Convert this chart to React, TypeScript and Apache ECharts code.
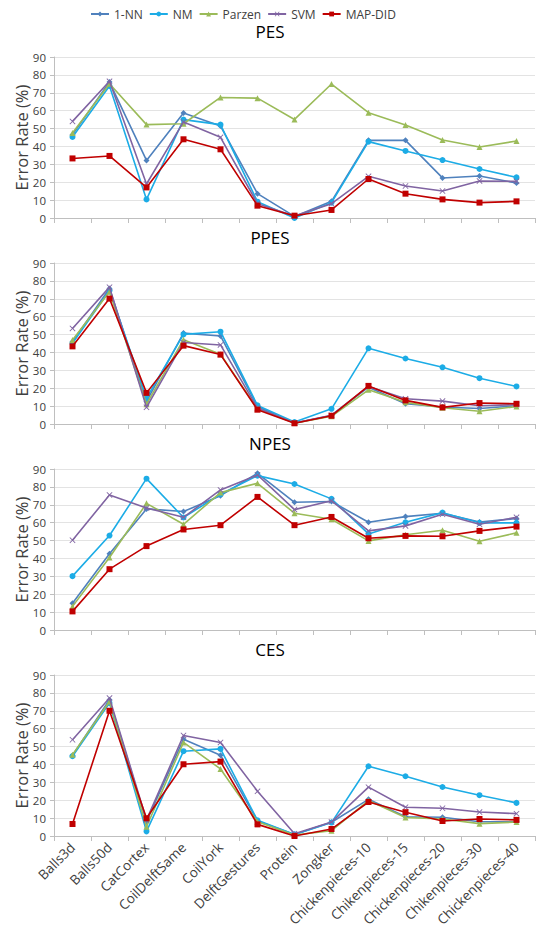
import React, { useEffect, useRef } from "react";
import * as echarts from "echarts";

const categories = [
  "Balls3d", "Balls50d", "CatCortex", "CoilDelftSame", "CoilYork", "DelftGestures",
  "Protein", "Zongker", "Chickenpieces-10", "Chikenpieces-15", "Chickenpieces-20",
  "Chikenpieces-30", "Chickenpieces-40",
];
const methods = ["1-NN", "NM", "Parzen", "SVM", "MAP-DID"];
const panelTitles = ["PES", "PPES", "NPES", "CES"];
const yTicks = [0, 10, 20, 30, 40, 50, 60, 70, 80, 90];

// PES
const pesNN = [46.6, 76, 32.2, 58.7, 51.4, 13.6, 0.9, 9.3, 43.4, 43.4, 22.4, 23.5, 19.6];
const pesNM = [45.3, 73.8, 10.4, 55, 52.2, 9.1, 0, 8.6, 42.7, 37.5, 32.4, 27.4, 22.7];
const pesParzen = [47.5, 75, 52.2, 52.7, 67.4, 67, 55.1, 74.9, 58.9, 52, 43.6, 39.7, 43];
const pesSVM = [54, 76.4, 19, 53.7, 45.1, 8, 1.1, 8, 23.3, 17.9, 15.1, 20.7, 20.5];
const pesMAP = [33.3, 34.7, 17.1, 44, 38.4, 6.9, 1.3, 4.5, 21.8, 13.6, 10.4, 8.6, 9.3];

// PPES
const ppesNN = [46, 75.7, 12.6, 50.8, 49.2, 9.8, 0.6, 4.8, 20.6, 11.3, 9.5, 8.7, 10.2];
const ppesNM = [45.1, 74.6, 14.5, 50.1, 51.6, 10.4, 1.1, 8.5, 42.3, 36.6, 31.7, 25.6, 21];
const ppesParzen = [47, 73.9, 11.1, 47.1, 39, 8.5, 0.5, 4.3, 19.1, 12.1, 9.1, 7.1, 9.8];
const ppesSVM = [53.4, 76.5, 9.3, 45.6, 44.2, 8.9, 0.6, 4.9, 21, 14.1, 12.8, 10.2, 10.8];
const ppesMAP = [43.4, 70.1, 17.4, 43.8, 38.8, 8, 0.4, 4.6, 21.3, 13.2, 9.3, 11.7, 11.3];

// NPES
const npesNN = [14.9, 42.6, 67.7, 66.2, 75.1, 87.6, 71.4, 71.8, 60.2, 63.4, 65.3, 60.4, 62.3];
const npesNM = [30.1, 52.8, 84.6, 62.9, 75.9, 86.3, 81.6, 73.3, 53.7, 60.2, 65.6, 59.9, 59.9];
const npesParzen = [13.2, 40.5, 70.8, 59.1, 76.8, 82, 65.3, 61.9, 49.8, 53.2, 55.8, 49.6, 54.3];
const npesSVM = [50.2, 75.5, 68.2, 63, 78.3, 86.7, 67.3, 72.3, 55.4, 58.2, 64.7, 59.1, 63];
const npesMAP = [10.4, 34, 46.9, 56.2, 58.6, 74.4, 58.6, 63.2, 51.3, 52.6, 52.4, 55.4, 57.8];

// CES
const cesNN = [45, 76.2, 8, 54.1, 45.2, 8.4, 0.8, 7.7, 20.5, 10.8, 10.5, 8, 8];
const cesNM = [44.6, 74.3, 2.6, 47.4, 48.7, 8.8, 0.9, 7.5, 39, 33.4, 27.4, 22.8, 18.5];
const cesParzen = [45.4, 75.2, 5.2, 52.3, 37.5, 8, 0.6, 3, 19.8, 10.3, 9.5, 6.9, 7.8];
const cesSVM = [53.8, 77.1, 9, 56.2, 52.3, 25, 1.3, 7.8, 27.3, 16.1, 15.5, 13.4, 12.5];
const cesMAP = [6.7, 70, 9.9, 40.1, 41.6, 6.5, 0, 3.9, 19, 13.3, 8.4, 9.5, 9];

const panels = [
  [pesNN, pesNM, pesParzen, pesSVM, pesMAP],
  [ppesNN, ppesNM, ppesParzen, ppesSVM, ppesMAP],
  [npesNN, npesNM, npesParzen, npesSVM, npesMAP],
  [cesNN, cesNM, cesParzen, cesSVM, cesMAP],
];

const colors = ["#4f81bd", "#1cace6", "#9bbb59", "#8064a2", "#c00000"];
const xMark = "path://M0,1L1,0L5,4L9,0L10,1L6,5L10,9L9,10L5,6L1,10L0,9L4,5Z";
const symbols = ["diamond", "circle", "triangle", xMark, "rect"];
const symbolSizes = [6, 6, 6, 6, 6];

const FONT = "Open Sans";
const gridTops = [57, 263, 469, 675];
const gridHeight = 161;

export default function App() {
  const ref = useRef<HTMLDivElement>(null);
  useEffect(() => {
    if (!ref.current) return;
    const chart = echarts.init(ref.current, undefined, { renderer: "svg" });
    const grids = gridTops.map((t) => ({ left: 54, right: 1, top: t, height: gridHeight }));
    const xAxes = gridTops.map((_, i) => ({
      type: "category" as const,
      gridIndex: i,
      data: categories,
      boundaryGap: true,
      axisLine: { lineStyle: { color: "#bfbfbf" } },
      axisTick: { show: true, length: 5, lineStyle: { color: "#bfbfbf" } },
      axisLabel: {
        show: i === 3,
        interval: 0,
        rotate: 45,
        fontFamily: FONT,
        fontSize: 13.5,
        color: "#404040",
        margin: 9,
        padding: [16, 0, 0, 0],
      },
      splitLine: { show: false },
    }));
    const yAxes = gridTops.map((_, i) => ({
      type: "value" as const,
      gridIndex: i,
      min: yTicks[0],
      max: yTicks[yTicks.length - 1],
      interval: 10,
      name: "Error Rate (%)",
      nameLocation: "middle" as const,
      nameGap: 24,
      nameMoveOverlap: false,
      nameTextStyle: { fontFamily: FONT, fontSize: 16.5, color: "#404040" },
      axisLine: { show: true, lineStyle: { color: "#bfbfbf" } },
      axisTick: { show: true, length: 4, lineStyle: { color: "#bfbfbf" } },
      axisLabel: { fontFamily: FONT, fontSize: 11.5, color: "#404040", margin: 8 },
      splitLine: { lineStyle: { color: "#e3e3e3" } },
    }));
    const series: any[] = [];
    panels.forEach((panel, pi) => {
      panel.forEach((vals, mi) => {
        series.push({
          type: "line",
          name: methods[mi],
          xAxisIndex: pi,
          yAxisIndex: pi,
          data: vals,
          symbol: symbols[mi],
          symbolSize: symbolSizes[mi],
          showAllSymbol: true,
          lineStyle: { width: 1.6, color: colors[mi] },
          itemStyle: { color: colors[mi] },
          z: 2 + mi,
        });
      });
    });
    chart.setOption({
      animation: false,
      backgroundColor: "#ffffff",
      color: colors,
      title: panelTitles.map((t, i) => ({
        text: t,
        left: 265,
        textAlign: "center",
        top: gridTops[i] - 39,
        textStyle: { fontFamily: FONT, fontSize: 17, fontWeight: "normal", color: "#000000" },
      })),
      legend: {
        data: methods,
        left: 85,
        top: 3,
        itemWidth: 18,
        itemHeight: 6,
        itemGap: 6,
        textStyle: { fontFamily: FONT, fontSize: 12, color: "#404040" },
      },
      grid: grids,
      xAxis: xAxes,
      yAxis: yAxes,
      series,
    });
    return () => chart.dispose();
  }, []);
  return (
    <div
      ref={ref}
      style={{ position: "fixed", left: 0, top: 0, width: 536, height: 933 }}
    />
  );
}
